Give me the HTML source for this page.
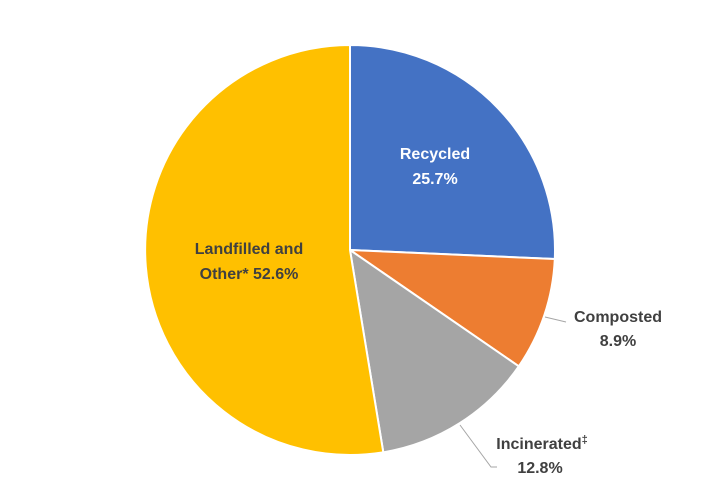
<!DOCTYPE html>
<html><head><meta charset="utf-8"><style>
html,body{margin:0;padding:0;background:#fff;}
svg{display:block;}
text{font-family:"Liberation Sans",sans-serif;font-weight:bold;font-size:16px;text-anchor:middle;}
</style></head><body>
<svg width="720" height="504" viewBox="0 0 720 504">
<g stroke="#fff" stroke-width="2" stroke-linejoin="round">
<path d="M350,250 L350,45 A205,205 0 0 1 554.8,259.0 Z" fill="#4472C4"/>
<path d="M350,250 L554.8,259.0 A205,205 0 0 1 518.8,366.3 Z" fill="#ED7D31"/>
<path d="M350,250 L518.8,366.3 A205,205 0 0 1 383.3,452.3 Z" fill="#A5A5A5"/>
<path d="M350,250 L383.3,452.3 A205,205 0 1 1 350,45 Z" fill="#FFC000"/>
</g>
<polyline points="545,317 566,322" fill="none" stroke="#a6a6a6" stroke-width="1"/>
<polyline points="460,425 491,467 497,467" fill="none" stroke="#a6a6a6" stroke-width="1"/>
<text x="435" y="159" fill="#fff">Recycled</text>
<text x="435" y="184" fill="#fff">25.7%</text>
<text x="249" y="254" fill="#404040">Landfilled and</text>
<text x="249" y="279" fill="#404040">Other* 52.6%</text>
<text x="618" y="322" fill="#404040">Composted</text>
<text x="618" y="346" fill="#404040">8.9%</text>
<text x="542" y="449" fill="#404040">Incinerated<tspan font-size="11" dy="-6">‡</tspan></text>
<text x="540" y="473" fill="#404040">12.8%</text>
</svg>
</body></html>
